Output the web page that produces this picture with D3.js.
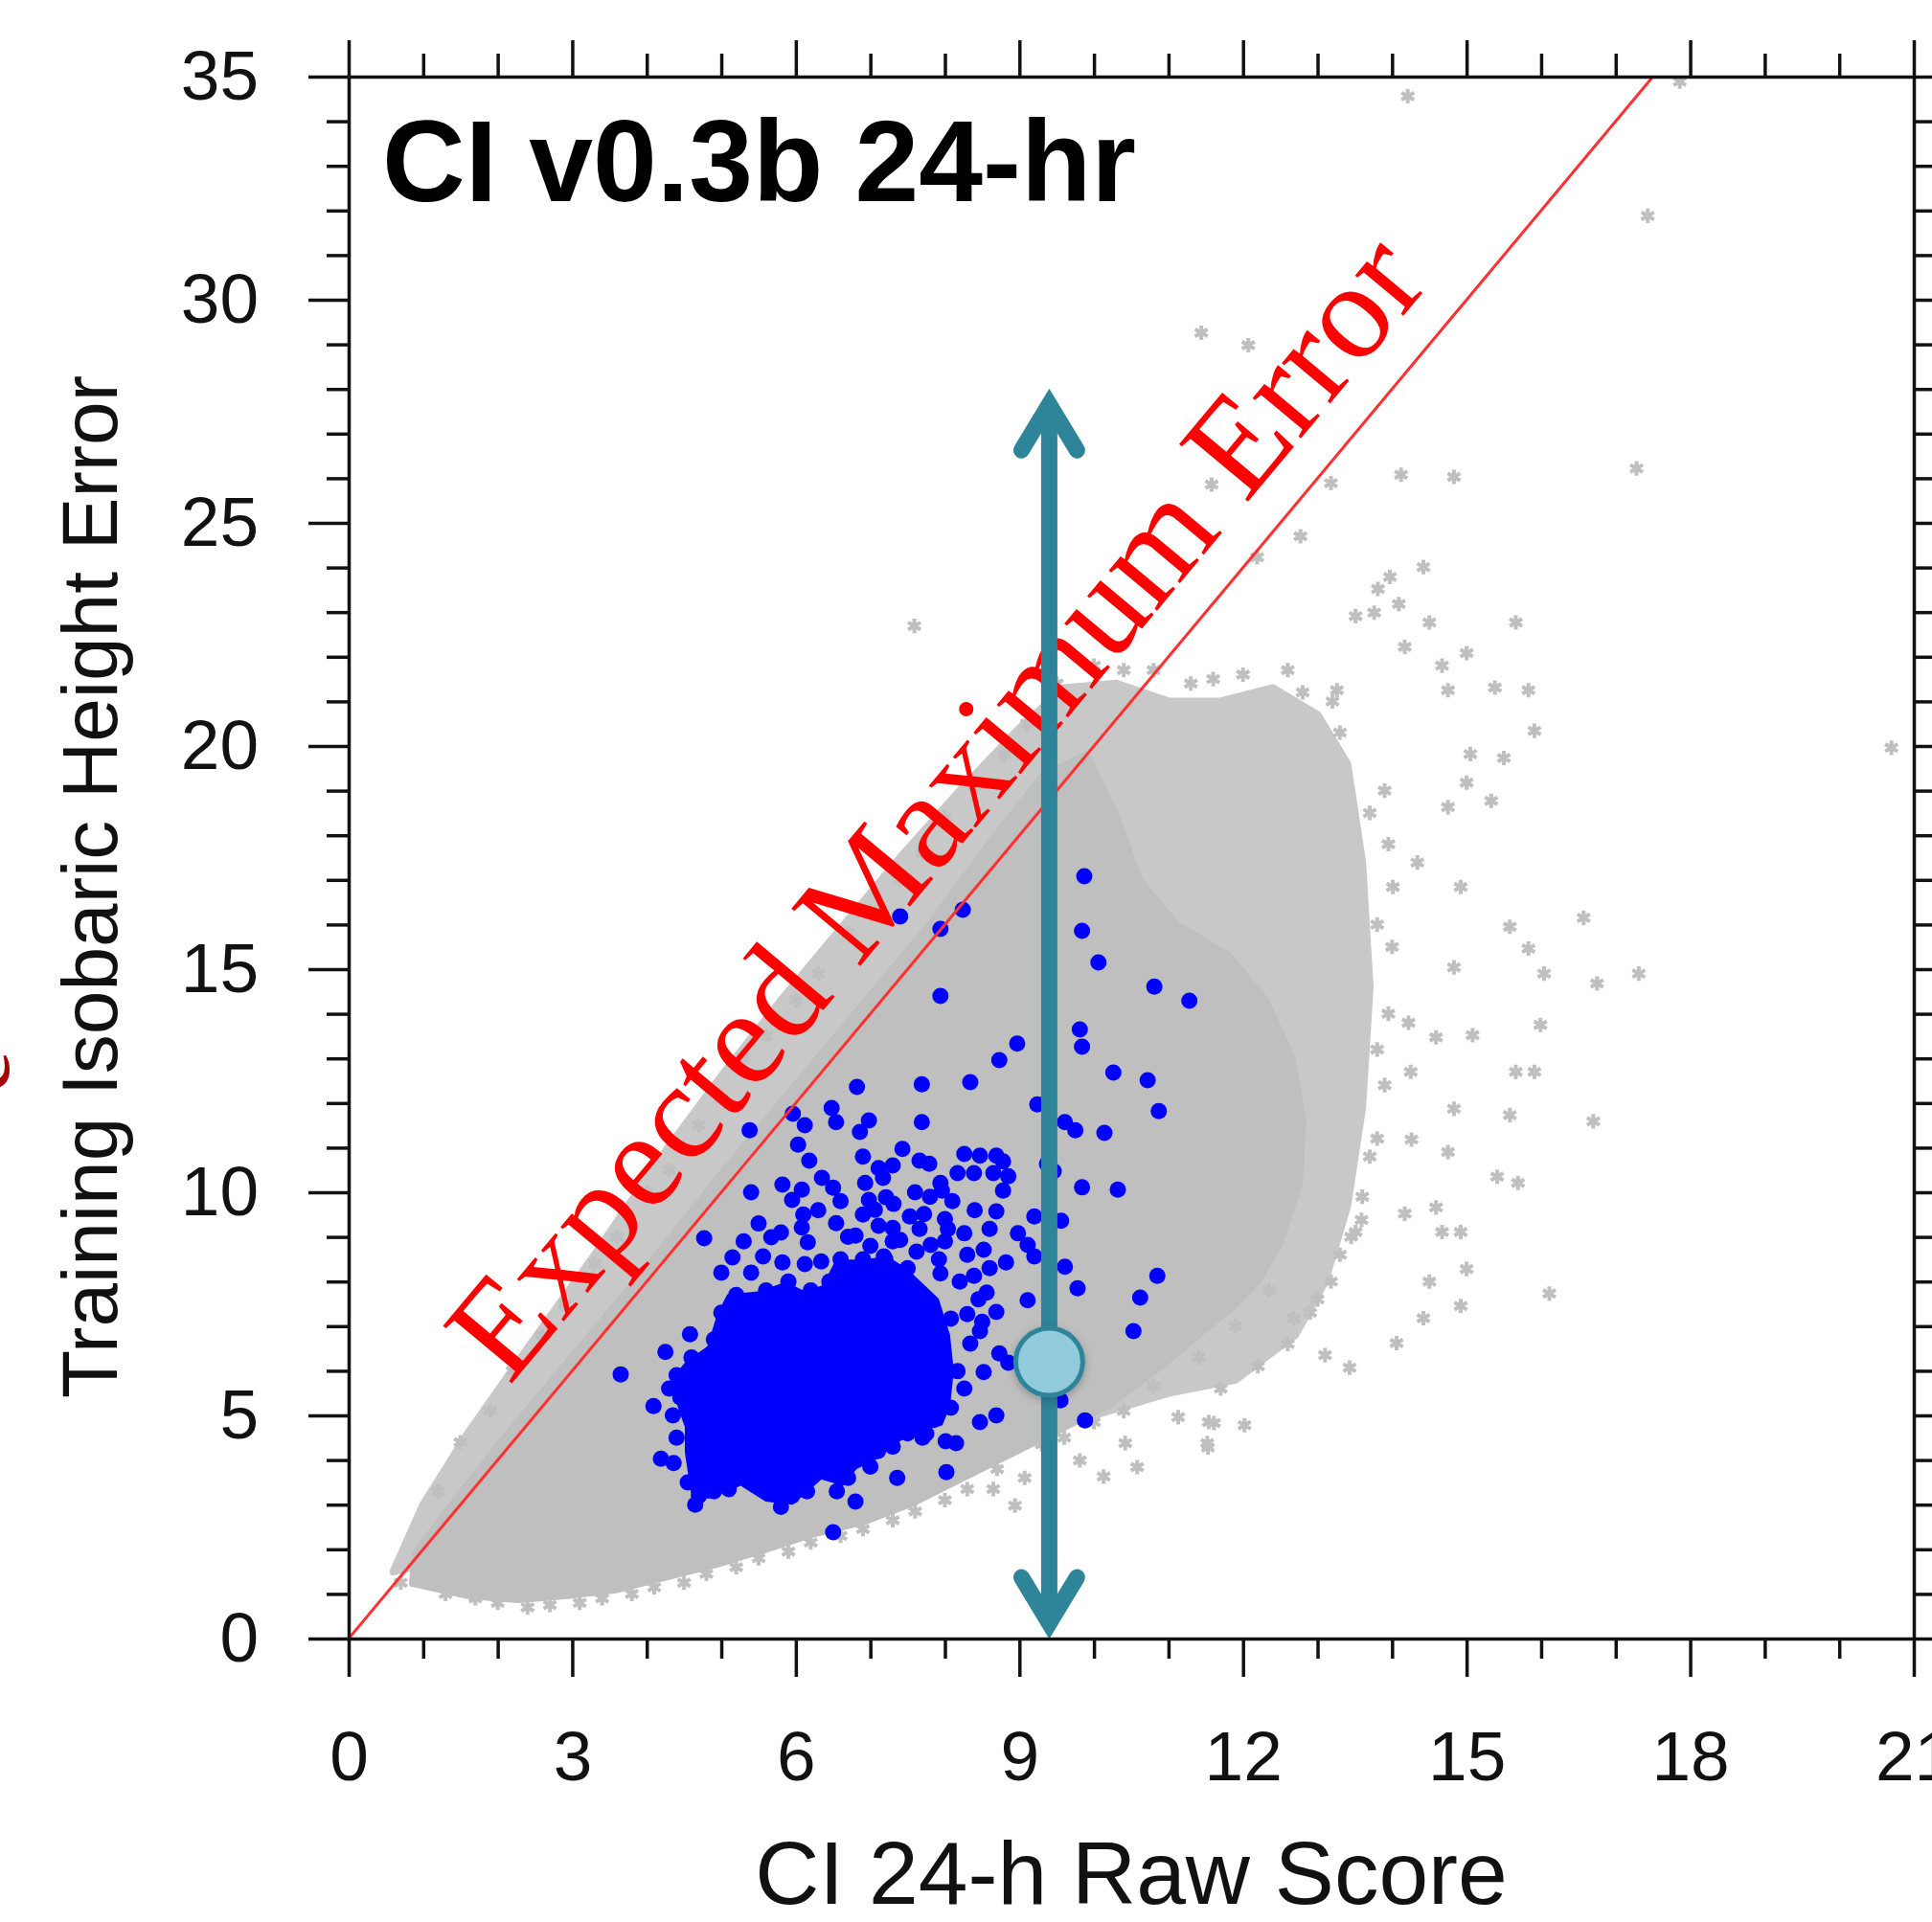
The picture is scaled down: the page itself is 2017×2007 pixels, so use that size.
<!DOCTYPE html>
<html>
<head>
<meta charset="utf-8">
<script src="https://cdn.jsdelivr.net/npm/d3@7"></script>
<style>
  body { margin: 0; background: #fff; }
  svg { display: block; }
</style>
</head>
<body>
<div id="chart"></div>
<script>
// axis ticks
const xMajor = [0, 3, 6, 9, 12, 15, 18, 21];
const yMajor = [0, 5, 10, 15, 20, 25, 30, 35];
const xMinor = d3.range(0, 22).filter(d => d % 3 !== 0);
const yMinor = d3.range(0, 36).filter(d => d % 5 !== 0);

// training cloud: solid core outline, speckled outer outline, single stars
const grayCore = [[0.86,1.24],[1.60,0.97],[2.27,0.88],[2.93,0.97],[3.59,1.10],[4.25,1.38],[4.91,1.66],[5.57,1.99],[6.23,2.35],[6.90,2.62],[7.56,3.04],[8.22,3.59],[8.88,4.14],[9.54,4.69],[10.20,5.24],[10.87,6.07],[11.36,6.76],[11.86,7.45],[12.19,8.00],[12.5,8.9],[12.75,10.2],[12.8,11.6],[12.65,13.0],[12.3,14.3],[11.8,15.3],[11.1,16.0],[10.6,17.0],[10.3,18.4],[9.9,19.8],[9.3,19.3],[8.6,17.8],[7.8,16.0],[7.0,14.4],[6.0,12.4],[5.0,10.4],[4.0,8.3],[3.0,6.3],[2.0,4.3],[1.3,2.8],[0.9,1.9]];
const graySparse = [[0.6,1.5],[1.0,3.0],[1.6,4.6],[2.4,6.5],[3.3,8.6],[4.2,10.8],[5.0,12.6],[5.8,14.3],[6.6,15.9],[7.4,17.5],[8.2,19.0],[9.0,20.4],[9.6,21.3],[10.3,21.4],[11.0,21.0],[11.7,21.0],[12.4,21.3],[13.0,20.7],[13.4,19.6],[13.6,17.4],[13.7,14.6],[13.6,11.9],[13.4,9.7],[13.1,8.0],[12.7,6.8],[11.9,5.8],[11.0,5.5],[10.0,5.0]];
const grayStars = [[14.21,34.56],[17.86,34.89],[17.43,31.88],[11.44,29.26],[12.07,28.98],[14.12,26.08],[14.83,26.03],[13.18,25.89],[17.28,26.22],[11.58,25.86],[12.77,24.70],[12.19,24.23],[14.42,24.01],[13.97,23.79],[13.81,23.52],[13.51,22.91],[13.76,22.99],[14.09,23.18],[14.17,22.22],[14.50,22.77],[15.00,22.08],[15.66,22.77],[7.59,22.69],[13.26,21.25],[14.67,21.80],[14.75,21.25],[15.38,21.31],[15.83,21.25],[15.91,20.34],[15.50,19.73],[15.05,19.82],[20.70,19.96],[14.75,18.63],[15.33,18.77],[15.00,19.18],[16.57,16.15],[16.04,14.90],[16.75,14.68],[17.31,14.90],[15.58,15.95],[15.83,15.46],[14.92,16.84],[14.34,17.39],[14.01,16.84],[14.83,15.04],[14.22,13.80],[14.59,13.47],[15.08,13.52],[14.25,12.70],[15.66,12.70],[15.99,13.75],[16.70,11.59],[15.58,11.73],[15.41,10.35],[15.69,10.21],[15.91,12.70],[14.83,11.87],[14.26,11.18],[14.75,10.90],[14.59,9.66],[14.17,9.52],[14.67,9.11],[14.92,9.11],[14.50,8.00],[15.00,8.28],[14.92,7.45],[14.42,7.18],[14.06,6.62],[16.11,7.73],[13.59,9.38],[13.51,9.11],[13.18,8.00],[12.68,7.18],[13.10,6.35],[13.43,6.07],[11.61,4.83],[12.02,4.78],[11.53,4.28],
  [8.94,2.98],[8.65,3.35],[9.07,3.60],[9.81,3.99],[10.13,3.63],[10.58,3.84],[10.42,4.38],[11.52,4.38],[11.54,4.85],[11.13,4.96],
  [1.3,1.0],[2.0,0.8],[2.7,0.75],[3.4,0.9],[4.1,1.15],[4.8,1.45],[5.5,1.8],[6.2,2.15],[6.9,2.45],[7.6,2.85],[8.3,3.35],[9.3,4.35],[10.0,4.85],[10.8,5.65],[11.4,6.3],[11.9,7.0],[12.35,7.8],[0.7,1.25],[1.0,1.55],
  [1.5,4.4],[2.2,6.0],[2.9,7.5],[3.6,9.0],[4.3,10.5],[5.0,12.1],[5.6,13.5],[6.3,14.9],[7.0,16.3],[7.7,17.6],[8.4,19.1],[9.1,20.5],[9.5,21.4],[10.4,21.7],[11.3,21.4],[12.0,21.6],[12.8,21.2],[13.3,20.3],[13.7,18.5],[13.8,16.0],[13.8,13.2],[13.7,10.8],[13.3,8.6],[12.9,7.3],
  [13.9,19.0],[13.95,17.8],[14.0,15.5],[13.95,14.0],[13.9,12.4],[13.8,11.2],[13.6,9.9],[13.45,9.0],[13.0,7.6],[12.6,6.6],[12.2,6.1],[11.7,5.6],[13.2,21.0],[12.6,21.7],[11.6,21.5],[10.8,21.7],[10.0,21.8],
  [1.7,0.9],[2.4,0.7],[3.1,0.8],[3.8,1.0],[4.5,1.25],[5.2,1.6],[5.9,1.95],[6.6,2.3],[7.3,2.65],[8.0,3.1],[8.7,3.8],[9.6,4.5],[10.4,5.1],
  [1.2,3.3],[1.9,5.1],[2.6,6.8],[3.3,8.4],[4.0,10.0],[4.7,11.5],[5.3,13.0],[6.0,14.3],[6.7,15.8],[7.4,17.0],[8.0,18.4],[8.8,19.8]];

// v0.3b cases: dense centre outline plus single dots
const blueCore = [[4.32,5.74],[4.53,6.17],[4.83,6.53],[4.96,7.25],[5.09,7.68],[5.52,7.75],[5.86,7.96],[6.12,7.75],[6.37,7.89],[6.55,8.46],[6.89,8.46],[7.23,8.53],[7.49,8.25],[7.9,7.6],[8.05,6.8],[8.1,6.0],[8.05,5.2],[7.95,4.8],[7.79,4.74],[7.40,4.46],[7.06,4.03],[6.80,3.82],[6.63,3.46],[6.34,3.60],[5.95,3.03],[5.60,3.10],[5.26,3.46],[4.83,3.17],[4.62,3.17],[4.53,4.17],[4.53,4.74],[4.41,5.32]];
const bluePoints = [[7.40,16.18],[6.82,12.36],[7.69,12.42],[5.38,11.39],[5.96,11.76],[6.12,11.50],[6.48,11.89],[6.54,11.57],[6.98,11.61],[6.86,11.35],[7.69,11.57],[6.03,11.07],[6.18,10.71],[6.35,10.32],[7.43,10.97],[7.66,10.71],[5.82,10.17],[6.08,10.06],[7.11,10.54],[7.17,10.32],[6.93,10.21],[7.21,9.89],[6.98,9.83],
  [9.87,17.08],[8.24,16.33],[7.94,15.90],[9.84,15.86],[10.06,15.15],[10.81,14.61],[11.28,14.29],[7.94,14.40],[9.81,13.65],[9.84,13.26],[8.97,13.33],[8.73,12.96],[10.26,12.68],[10.72,12.51],[10.87,11.82],[8.34,12.47],[9.24,11.97],[9.61,11.57],[9.75,11.39],[10.14,11.33],[8.26,10.86],[8.47,10.82],[8.69,10.82],[8.78,10.69],[8.17,10.43],[8.39,10.43],[8.65,10.43],[8.85,10.36],[7.79,10.64],[7.94,10.21],[7.96,10.04],[8.78,10.04],[9.37,10.64],[9.46,10.47],[9.84,10.11],[10.32,10.06],
  [8.69,9.57],[7.72,9.51],[9.20,9.46],[9.56,9.36],[8.04,9.18],[8.26,9.08],[8.60,9.18],[8.98,9.08],[9.11,8.82],[9.20,8.56],[7.81,8.82],[7.92,8.50],[8.52,8.71],[8.82,8.43],[9.61,8.33],[9.78,7.85],[8.39,8.13],[7.94,8.18],[10.85,8.13],[10.62,7.64],[9.11,7.58],[8.56,7.75],[8.69,7.32],[8.30,7.27],[8.08,7.17],[7.75,7.32],[10.53,6.89],[8.47,6.89],[8.34,6.61],[8.73,6.39],[8.85,6.18],[8.52,5.97],[8.17,5.99],[8.26,5.60],[7.79,6.67],[7.96,6.46],[7.79,6.18],[9.55,5.34],[9.88,4.89],[8.69,5.00],[8.47,4.85],[7.75,5.60],[7.92,5.32],[8.08,5.17],[7.75,4.59],[8.01,4.42],[8.15,4.38],[8.02,3.73],
  [4.77,8.97],[5.15,8.54],[5.67,8.99],[5.95,9.83],[5.56,8.56],[5.82,8.43],[6.08,9.21],[6.16,8.88],[6.54,9.31],[6.80,9.03],[7.06,9.61],[7.11,9.25],[7.31,9.74],[7.53,9.46],[7.66,9.18],[7.40,8.93],[7.62,8.67],[6.12,8.39],[6.34,8.45],[7.18,8.56],[4.58,6.82],[4.25,6.42],[3.65,5.92],[4.09,5.21],[4.19,4.03],[4.36,3.93],[4.70,3.20],[6.80,3.07],[7.36,3.60],[6.50,2.38],
  [4.55,3.5],[4.9,3.3],[5.3,3.6],[5.65,3.25],[5.95,3.2],[6.4,3.75],[6.7,3.6],[7.1,4.2],[7.5,4.6],[7.85,4.9],[4.45,5.4],[4.4,5.9],[4.6,6.3],[4.9,6.7],[5.0,7.3],[5.2,7.7],[5.6,7.8],[5.9,8.0],[6.2,7.8],[6.45,8.0],[6.6,8.5],[6.9,8.5],[7.2,8.5],[7.5,8.3],
  [5.3,8.9],[5.5,9.3],[5.8,9.1],[6.3,9.6],[6.6,9.8],[6.9,9.5],[7.3,9.2],[7.0,8.8],[7.8,9.9],[8.1,9.8],[8.4,9.6],[8.0,8.9],[8.3,8.6],[8.6,8.3],[8.2,8.0],[8.45,7.6],[8.5,7.1],[5.0,8.2],[5.4,8.2],[6.7,9.0],[7.3,8.9],[6.1,9.5],[6.9,10.8],[7.3,10.6],[6.5,10.1],[5.4,10.0],[7.6,10.0],[8.0,9.4],
  [4.65,3.0],[5.1,3.35],[5.8,2.95],[6.15,3.3],[6.55,3.3],[7.0,3.85],[7.3,4.3],[7.7,4.5],[4.4,4.5],[4.35,5.0],[4.3,5.6]];

// expected maximum error: error = 2 * score
const maxErrorLine = [[0, 0], [17.5, 35]];
// annotation: raw score 9.4, range 0..28, marker at 6.2
const arrowScore = 9.4;
const arrowRange = [0, 28];
const markerError = 6.2;

const width = 2017, height = 2007;
const teal = "#2e8499";
const gray = "#bfbfbf";

const svg = d3.select("#chart")
  .append("svg")
  .attr("width", width)
  .attr("height", height);

svg.append("rect").attr("width", width).attr("height", height).attr("fill", "#fff");

const x = d3.scaleLinear().domain([0, 21]).range([364, 1998]);
const y = d3.scaleLinear().domain([0, 35]).range([1711, 80]);

const defs = svg.append("defs");
defs.append("clipPath").attr("id", "plotClip")
  .append("rect")
  .attr("x", x(0)).attr("y", y(35))
  .attr("width", x(21) - x(0)).attr("height", y(0) - y(35));
const shadow = defs.append("filter").attr("id", "shadow")
  .attr("x", "-50%").attr("y", "-50%").attr("width", "200%").attr("height", "200%");
shadow.append("feDropShadow")
  .attr("dx", 0).attr("dy", 3).attr("stdDeviation", 4)
  .attr("flood-color", "#000").attr("flood-opacity", 0.25);

const plot = svg.append("g").attr("clip-path", "url(#plotClip)");

const outline = d3.line().x(d => x(d[0])).y(d => y(d[1])).curve(d3.curveLinearClosed);

// gray training cloud
plot.append("path")
  .attr("d", outline(graySparse))
  .attr("fill", "#c8c8c8")
  .attr("stroke", "#c8c8c8")
  .attr("stroke-width", 8)
  .attr("stroke-linejoin", "round");

plot.append("path")
  .attr("d", outline(grayCore))
  .attr("fill", gray)
  .attr("stroke", gray)
  .attr("stroke-width", 8)
  .attr("stroke-linejoin", "round");

const star = d3.symbol().type(d3.symbolAsterisk).size(160);
plot.selectAll("path.star")
  .data(grayStars)
  .enter()
  .append("path")
  .attr("class", "star")
  .attr("transform", d => `translate(${x(d[0])},${y(d[1])})`)
  .attr("d", star)
  .attr("fill", "none")
  .attr("stroke", gray)
  .attr("stroke-width", 4);

// blue cases
plot.append("path")
  .attr("d", outline(blueCore))
  .attr("fill", "#0000ff")
  .attr("stroke", "#0000ff")
  .attr("stroke-width", 3)
  .attr("stroke-linejoin", "round");

plot.selectAll("circle.case")
  .data(bluePoints)
  .enter()
  .append("circle")
  .attr("class", "case")
  .attr("cx", d => x(d[0]))
  .attr("cy", d => y(d[1]))
  .attr("r", 8.5)
  .attr("fill", "#0000ff");

// red line and its label
plot.append("line")
  .attr("x1", x(maxErrorLine[0][0])).attr("y1", y(maxErrorLine[0][1]))
  .attr("x2", x(maxErrorLine[1][0])).attr("y2", y(maxErrorLine[1][1]))
  .attr("stroke", "#ff3030")
  .attr("stroke-width", 3);

const angle = Math.atan2(y(0) - y(2), x(1) - x(0)) * 180 / Math.PI;
const labelAt = 2.55;
svg.append("text")
  .attr("transform", `translate(${x(labelAt)},${y(2 * labelAt)}) rotate(${-angle})`)
  .attr("y", -40)
  .attr("font-family", "'Liberation Serif', 'Times New Roman', serif")
  .attr("font-size", 143)
  .attr("fill", "#ff0000")
  .text("Expected Maximum Error");

// teal double arrow with marker
const ax = x(arrowScore);
const topTip = y(arrowRange[1]);
const bottomTip = y(arrowRange[0]);
svg.append("line")
  .attr("x1", ax).attr("x2", ax)
  .attr("y1", topTip + 16).attr("y2", bottomTip - 16)
  .attr("stroke", teal)
  .attr("stroke-width", 17);
svg.append("path")
  .attr("d", `M${ax - 29},${topTip + 64}L${ax},${topTip + 16}L${ax + 29},${topTip + 64}`)
  .attr("fill", "none").attr("stroke", teal).attr("stroke-width", 17)
  .attr("stroke-linecap", "round").attr("stroke-linejoin", "miter");
svg.append("path")
  .attr("d", `M${ax - 29},${bottomTip - 64}L${ax},${bottomTip - 16}L${ax + 29},${bottomTip - 64}`)
  .attr("fill", "none").attr("stroke", teal).attr("stroke-width", 17)
  .attr("stroke-linecap", "round").attr("stroke-linejoin", "miter");
svg.append("circle")
  .attr("cx", ax).attr("cy", y(markerError))
  .attr("r", 35)
  .attr("fill", "#92cbdb")
  .attr("stroke", teal)
  .attr("stroke-width", 5)
  .attr("filter", "url(#shadow)");

// frame with ticks on all sides
function styleAxis(g) {
  g.selectAll("path, line").attr("stroke", "#111").attr("stroke-width", 3.5);
  g.selectAll("text")
    .attr("font-family", "'Liberation Sans', Arial, sans-serif")
    .attr("font-size", 73)
    .attr("fill", "#111");
}

svg.append("g").attr("transform", `translate(0,${y(0)})`)
  .call(d3.axisBottom(x).tickValues(xMajor).tickSize(40).tickPadding(56).tickSizeOuter(0))
  .call(styleAxis);
svg.append("g").attr("transform", `translate(0,${y(0)})`)
  .call(d3.axisBottom(x).tickValues(xMinor).tickSize(21).tickFormat(""))
  .call(styleAxis)
  .call(g => g.select(".domain").remove());

svg.append("g").attr("transform", `translate(${x(0)},0)`)
  .call(d3.axisLeft(y).tickValues(yMajor).tickSize(42).tickPadding(52).tickSizeOuter(0))
  .call(styleAxis);
svg.append("g").attr("transform", `translate(${x(0)},0)`)
  .call(d3.axisLeft(y).tickValues(yMinor).tickSize(23).tickFormat(""))
  .call(styleAxis)
  .call(g => g.select(".domain").remove());

svg.append("g").attr("transform", `translate(0,${y(35)})`)
  .call(d3.axisTop(x).tickValues(xMajor).tickSize(38).tickFormat("").tickSizeOuter(0))
  .call(styleAxis);
svg.append("g").attr("transform", `translate(0,${y(35)})`)
  .call(d3.axisTop(x).tickValues(xMinor).tickSize(24).tickFormat(""))
  .call(styleAxis)
  .call(g => g.select(".domain").remove());

svg.append("g").attr("transform", `translate(${x(21)},0)`)
  .call(d3.axisRight(y).tickValues(yMajor).tickSize(42).tickFormat("").tickSizeOuter(0))
  .call(styleAxis);
svg.append("g").attr("transform", `translate(${x(21)},0)`)
  .call(d3.axisRight(y).tickValues(yMinor).tickSize(23).tickFormat(""))
  .call(styleAxis)
  .call(g => g.select(".domain").remove());

// titles
svg.append("text")
  .attr("x", 399).attr("y", 210)
  .attr("font-family", "'Liberation Sans', Arial, sans-serif")
  .attr("font-weight", "bold")
  .attr("font-size", 120)
  .attr("fill", "#000")
  .text("CI v0.3b 24-hr");

svg.append("text")
  .attr("x", 1181).attr("y", 1988)
  .attr("text-anchor", "middle")
  .attr("font-family", "'Liberation Sans', Arial, sans-serif")
  .attr("font-size", 93)
  .attr("fill", "#111")
  .text("CI 24-h Raw Score");

svg.append("text")
  .attr("transform", "translate(122,926) rotate(-90)")
  .attr("text-anchor", "middle")
  .attr("font-family", "'Liberation Sans', Arial, sans-serif")
  .attr("font-size", 82)
  .attr("fill", "#111")
  .text("Training Isobaric Height Error");

// cut-off glyph of a neighbouring label at the left edge
svg.append("text")
  .attr("transform", "translate(9,1119) rotate(-90)")
  .attr("text-anchor", "middle")
  .attr("font-family", "'Liberation Serif', serif")
  .attr("font-size", 100)
  .attr("fill", "#a80000")
  .text("e");
</script>
</body>
</html>
